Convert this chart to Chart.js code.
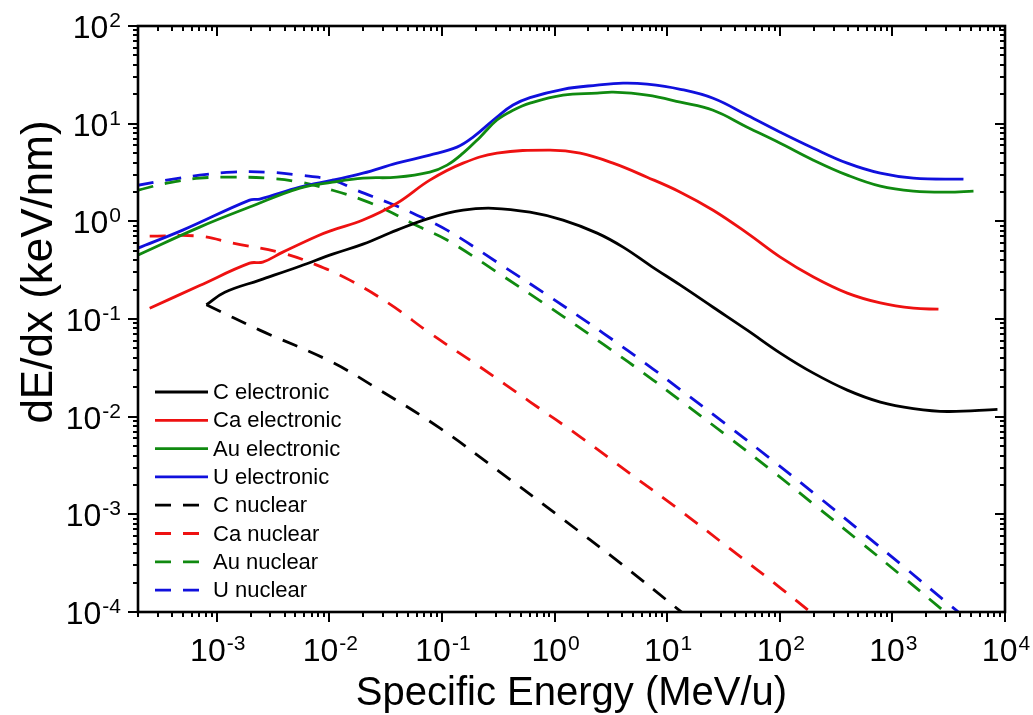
<!DOCTYPE html>
<html><head><meta charset="utf-8">
<script src="https://cdn.jsdelivr.net/npm/chart.js@4.4.1/dist/chart.umd.min.js"></script>
<style>html,body{margin:0;padding:0;background:#fff;}#wrap{width:1033px;height:715px;}</style>
</head><body><div id="wrap"><canvas id="c" width="1033" height="715"></canvas></div>
<script>
// ---- data (Specific energy in MeV/u, stopping power dE/dx in keV/nm) ----
const cElecE  = [8.1e-4, 1.18e-3, 2.41e-3, 5.47e-3, 0.0107, 0.0199, 0.0398, 0.078, 0.154, 0.284, 0.605, 1.19, 2.39, 4.06, 7.3, 13.1, 25.6, 51.4, 101, 199, 398, 782, 1538, 3083, 8570];
const cElecV  = [0.14, 0.188, 0.250, 0.347, 0.461, 0.585, 0.813, 1.08, 1.30, 1.36, 1.24, 1.03, 0.757, 0.544, 0.344, 0.222, 0.132, 0.0769, 0.0448, 0.0279, 0.0187, 0.0141, 0.0121, 0.0113, 0.0119];
const caElecE = [2.54e-4, 7.06e-4, 1.96e-3, 2.56e-3, 3.86e-3, 7.75e-3, 0.0107, 0.0199, 0.0398, 0.078, 0.154, 0.308, 0.912, 1.69, 3.31, 6.64, 13.1, 25.6, 51.4, 101, 199, 398, 782, 1538, 2565];
const caElecV = [0.129, 0.22, 0.373, 0.382, 0.484, 0.705, 0.813, 1.03, 1.53, 2.64, 3.94, 4.99, 5.36, 4.99, 3.94, 2.83, 1.99, 1.30, 0.757, 0.430, 0.269, 0.184, 0.146, 0.129, 0.126];
const auElecE = [1.99e-4, 7.06e-4, 1.96e-3, 5.47e-3, 0.0107, 0.0199, 0.0398, 0.078, 0.111, 0.154, 0.218, 0.308, 0.428, 0.605, 1.19, 2.39, 3.31, 6.64, 13.1, 25.6, 51.4, 101, 199, 398, 782, 1538, 3083, 5250];
const auElecV = [0.451, 0.873, 1.40, 2.19, 2.52, 2.77, 2.83, 3.19, 3.76, 4.99, 7.28, 10.9, 13.7, 16.2, 19.6, 20.5, 21.0, 19.6, 16.6, 13.7, 9.2, 6.31, 4.23, 2.97, 2.29, 2.04, 1.99, 2.04];
const uElecE  = [1.99e-4, 4.99e-4, 1.96e-3, 2.41e-3, 5.47e-3, 0.0107, 0.0199, 0.0398, 0.078, 0.136, 0.189, 0.308, 0.428, 0.605, 1.19, 2.39, 4.06, 6.64, 13.1, 25.6, 51.4, 101, 199, 398, 782, 1538, 4276];
const uElecV  = [0.532, 0.813, 1.65, 1.69, 2.24, 2.64, 3.11, 3.94, 4.76, 5.75, 7.28, 11.7, 15.5, 18.5, 22.5, 24.8, 26.0, 25.4, 22.5, 18.2, 12.2, 8.19, 5.61, 3.94, 3.11, 2.77, 2.70];
const cNucE   = [8.1e-4, 2.41e-3, 0.0101, 0.0281, 0.096, 0.328, 1.12, 3.82, 13.1, 19.6];
const cNucV   = [0.14, 0.0769, 0.0371, 0.0187, 7.63e-3, 2.71e-3, 9.38e-4, 3.18e-4, 1.02e-4, 7.0e-5];
const caNucE  = [2.54e-4, 7.06e-4, 1.39e-3, 3.86e-3, 7.75e-3, 0.0152, 0.0345, 0.078, 0.218, 0.605, 1.69, 4.69, 13.1, 36.3, 101, 281];
const caNucV  = [0.705, 0.705, 0.598, 0.472, 0.356, 0.250, 0.142, 0.0718, 0.0323, 0.0142, 6.22e-3, 2.61e-3, 1.09e-3, 4.42e-4, 1.77e-4, 6.86e-5];
const auNucE  = [1.99e-4, 3.60e-4, 7.06e-4, 1.39e-3, 2.78e-3, 5.47e-3, 0.0107, 0.0199, 0.0324, 0.0637, 0.111, 0.308, 0.912, 2.70, 7.51, 13.1, 32.8, 82.4, 207, 520, 1227, 2897, 4018];
const auNucV  = [2.08, 2.46, 2.77, 2.83, 2.77, 2.52, 2.08, 1.65, 1.30, 0.873, 0.643, 0.302, 0.131, 0.0553, 0.0237, 0.0146, 6.56e-3, 2.88e-3, 1.23e-3, 5.20e-4, 2.31e-4, 1.01e-4, 7.4e-5];
const uNucE   = [1.99e-4, 3.60e-4, 7.06e-4, 1.39e-3, 2.78e-3, 5.47e-3, 0.0107, 0.0175, 0.0345, 0.0552, 0.111, 0.308, 0.912, 2.70, 7.51, 13.1, 32.8, 82.4, 207, 520, 1227, 2897, 5470];
const uNucV   = [2.34, 2.64, 2.97, 3.19, 3.19, 2.97, 2.64, 2.08, 1.53, 1.21, 0.813, 0.382, 0.168, 0.0718, 0.0307, 0.0189, 8.49e-3, 3.72e-3, 1.60e-3, 6.75e-4, 2.99e-4, 1.31e-4, 7.2e-5];

const seriesNames = ['C electronic', 'Ca electronic', 'Au electronic', 'U electronic', 'C nuclear', 'Ca nuclear', 'Au nuclear', 'U nuclear'];
const xTickExps = [-3, -2, -1, 0, 1, 2, 3, 4];
const yTickExps = [-4, -3, -2, -1, 0, 1, 2];
const xTitle = 'Specific Energy (MeV/u)';
const yTitle = 'dE/dx (keV/nm)';

// ---- styling ----
const COLORS = ['#000000', '#ee1111', '#108a10', '#1010dd'];
const FONT = "'Liberation Sans', Arial, Helvetica, sans-serif";
const DASH = [16, 12];
const LW = 2.8;

function pts(E, V) { return E.map((e, i) => ({ x: e, y: V[i] })); }
const sets = [
  [cElecE, cElecV], [caElecE, caElecV], [auElecE, auElecV], [uElecE, uElecV],
  [cNucE, cNucV], [caNucE, caNucV], [auNucE, auNucV], [uNucE, uNucV]
];
const datasets = sets.map((s, i) => ({
  label: seriesNames[i],
  data: pts(s[0], s[1]),
  borderColor: COLORS[i % 4],
  backgroundColor: COLORS[i % 4],
  borderWidth: LW,
  borderDash: i >= 4 ? DASH : [],
  pointRadius: 0,
  fill: false,
  tension: 0.4
}));

function drawPow(ctx, exp, x, y, align) {
  const bs = 32, ss = 21;
  ctx.font = bs + 'px ' + FONT;
  const wb = ctx.measureText('10').width;
  ctx.font = ss + 'px ' + FONT;
  const es = String(exp);
  const ws = ctx.measureText(es).width;
  const tot = wb + ws + 1;
  const x0 = align === 'center' ? x - tot / 2 : (align === 'right' ? x - tot : x);
  ctx.textAlign = 'left';
  ctx.textBaseline = 'alphabetic';
  ctx.font = bs + 'px ' + FONT;
  ctx.fillText('10', x0, y);
  ctx.font = ss + 'px ' + FONT;
  ctx.fillText(es, x0 + wb + 1, y - 11);
}

const framePlugin = {
  id: 'frame',
  afterDraw(chart) {
    const ctx = chart.ctx, a = chart.chartArea;
    const xs = chart.scales.x, ys = chart.scales.y;
    ctx.save();
    ctx.strokeStyle = '#000';
    ctx.fillStyle = '#000';
    ctx.lineWidth = 2;
    const MAJ = 10, MIN = 5;
    for (let e = -4; e <= 4; e++) {
      for (let m = 1; m <= 9; m++) {
        const v = m * Math.pow(10, e);
        if (v < xs.min * 0.999 || v > xs.max * 1.001) continue;
        const px = Math.round(xs.getPixelForValue(v));
        const L = m === 1 ? MAJ : MIN;
        ctx.beginPath();
        ctx.moveTo(px, a.bottom); ctx.lineTo(px, a.bottom + L);
        ctx.moveTo(px, a.top); ctx.lineTo(px, a.top + L);
        ctx.stroke();
      }
    }
    for (let e = -4; e <= 2; e++) {
      for (let m = 1; m <= 9; m++) {
        const v = m * Math.pow(10, e);
        if (v < ys.min * 0.999 || v > ys.max * 1.001) continue;
        const py = Math.round(ys.getPixelForValue(v));
        const L = m === 1 ? MAJ : MIN;
        ctx.beginPath();
        ctx.moveTo(a.left - L, py); ctx.lineTo(a.left, py);
        ctx.moveTo(a.right - L, py); ctx.lineTo(a.right, py);
        ctx.stroke();
      }
    }
    ctx.lineWidth = 2.6;
    ctx.strokeRect(a.left, a.top, a.right - a.left, a.bottom - a.top);
    // tick labels
    xTickExps.forEach(e => drawPow(ctx, e, xs.getPixelForValue(Math.pow(10, e)) + 1, a.bottom + 49, 'center'));
    yTickExps.forEach(e => drawPow(ctx, e, a.left - 17, ys.getPixelForValue(Math.pow(10, e)) + 12, 'right'));
    // axis titles
    ctx.font = '40px ' + FONT;
    ctx.textAlign = 'center';
    ctx.textBaseline = 'alphabetic';
    ctx.fillText(xTitle, (a.left + a.right) / 2, 705);
    ctx.save();
    ctx.translate(52, 272);
    ctx.rotate(-Math.PI / 2);
    ctx.font = '44px ' + FONT;
    ctx.fillText(yTitle, 0, 0);
    ctx.restore();
    // legend
    const lx0 = 155, lx1 = 208, tx = 213, ly0 = 392, dy = 28.3;
    ctx.font = '22px ' + FONT;
    ctx.textAlign = 'left';
    ctx.textBaseline = 'middle';
    chart.data.datasets.forEach((d, i) => {
      const y = ly0 + i * dy;
      ctx.strokeStyle = d.borderColor;
      ctx.lineWidth = LW;
      ctx.setLineDash(i >= 4 ? DASH : []);
      ctx.beginPath(); ctx.moveTo(lx0, y); ctx.lineTo(lx1, y); ctx.stroke();
      ctx.setLineDash([]);
      ctx.fillStyle = '#000';
      ctx.fillText(d.label, tx, y + 1);
    });
    ctx.restore();
  }
};

new Chart(document.getElementById('c'), {
  type: 'line',
  data: { datasets },
  options: {
    responsive: false,
    animation: false,
    devicePixelRatio: 1,
    layout: { padding: { left: 138, top: 26, right: 28, bottom: 103 } },
    plugins: { legend: { display: false }, tooltip: { enabled: false } },
    scales: {
      x: { type: 'logarithmic', min: 2e-4, max: 1e4, display: false },
      y: { type: 'logarithmic', min: 1e-4, max: 100, display: false }
    }
  },
  plugins: [framePlugin]
});
</script>
</body></html>
